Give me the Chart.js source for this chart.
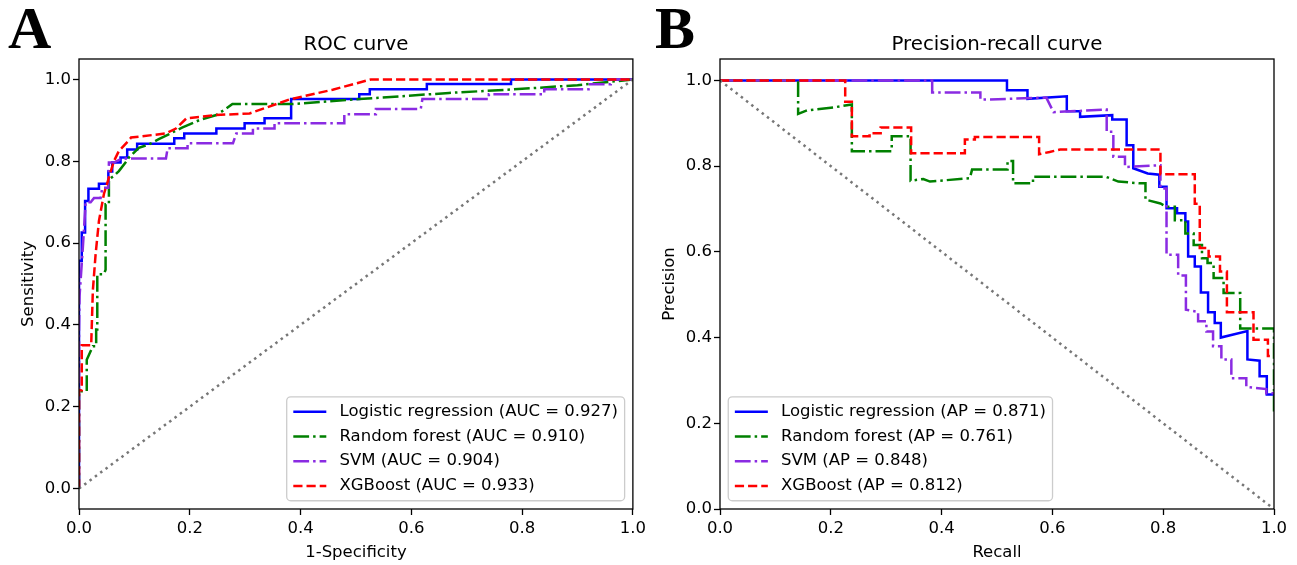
<!DOCTYPE html>
<html>
<head>
<meta charset="utf-8">
<title>ROC and precision-recall curves</title>
<script src="https://cdn.jsdelivr.net/npm/chart.js@4.4.1/dist/chart.umd.min.js"></script>
<style>
  body { margin: 0; background: #fff; }
  #rocchart { position: absolute; left: 0; top: 0; }
  #prchart { position: absolute; left: 650px; top: 0; }
</style>
</head>
<body>
<canvas id="rocchart" width="650" height="565"></canvas>
<canvas id="prchart" width="647" height="565"></canvas>
<script>
// models and scores shown in the legends
const models = ["Logistic regression", "Random forest", "SVM", "XGBoost"];
const aucScores = ["0.927", "0.910", "0.904", "0.933"];
const apScores = ["0.871", "0.761", "0.848", "0.812"];
const axisTicks = [0, 0.2, 0.4, 0.6, 0.8, 1.0];

// ROC curves (1-specificity, sensitivity)
const rocLrFpr = [0, 0, 0.005, 0.005, 0.011, 0.011, 0.017, 0.017, 0.036, 0.036, 0.053, 0.053, 0.060, 0.060, 0.075, 0.075, 0.087, 0.087, 0.105, 0.105, 0.172, 0.172, 0.190, 0.190, 0.248, 0.248, 0.299, 0.299, 0.335, 0.335, 0.383, 0.383, 0.506, 0.506, 0.525, 0.525, 0.628, 0.628, 0.780, 0.780, 1];
const rocLrTpr = [0, 0.557, 0.557, 0.626, 0.626, 0.703, 0.703, 0.733, 0.733, 0.745, 0.745, 0.775, 0.775, 0.797, 0.797, 0.809, 0.809, 0.829, 0.829, 0.843, 0.843, 0.856, 0.856, 0.868, 0.868, 0.880, 0.880, 0.893, 0.893, 0.905, 0.905, 0.952, 0.952, 0.964, 0.964, 0.976, 0.976, 0.989, 0.989, 1, 1];

const rocRfFpr = [0, 0, 0.014, 0.014, 0.025, 0.031, 0.031, 0.033, 0.033, 0.045, 0.048, 0.048, 0.054, 0.054, 0.063, 0.072, 0.084, 0.090, 0.102, 0.108, 0.126, 0.144, 0.162, 0.186, 0.218, 0.248, 0.266, 0.277, 0.386, 0.506, 0.668, 0.800, 0.900, 1];
const rocRfTpr = [0, 0.238, 0.238, 0.315, 0.348, 0.348, 0.389, 0.389, 0.524, 0.524, 0.535, 0.695, 0.695, 0.756, 0.764, 0.776, 0.797, 0.809, 0.825, 0.833, 0.841, 0.854, 0.866, 0.882, 0.901, 0.913, 0.929, 0.940, 0.940, 0.952, 0.967, 0.977, 0.986, 1];

const rocSvmFpr = [0, 0, 0.001, 0.007, 0.012, 0.021, 0.027, 0.039, 0.042, 0.053, 0.054, 0.063, 0.075, 0.085, 0.157, 0.160, 0.196, 0.196, 0.278, 0.284, 0.314, 0.314, 0.353, 0.353, 0.479, 0.479, 0.536, 0.536, 0.617, 0.620, 0.740, 0.740, 0.840, 0.840, 0.920, 0.920, 0.960, 0.960, 1];
const rocSvmTpr = [0, 0.390, 0.470, 0.590, 0.700, 0.700, 0.710, 0.710, 0.735, 0.735, 0.797, 0.797, 0.805, 0.807, 0.807, 0.832, 0.832, 0.844, 0.844, 0.868, 0.868, 0.880, 0.880, 0.893, 0.893, 0.915, 0.915, 0.928, 0.928, 0.952, 0.952, 0.964, 0.964, 0.976, 0.976, 0.988, 0.988, 1, 1];

const rocXgbFpr = [0, 0, 0.005, 0.005, 0.022, 0.025, 0.030, 0.036, 0.045, 0.054, 0.063, 0.072, 0.090, 0.094, 0.157, 0.175, 0.194, 0.248, 0.308, 0.380, 0.458, 0.527, 1];
const rocXgbTpr = [0, 0.240, 0.240, 0.350, 0.350, 0.484, 0.573, 0.654, 0.720, 0.760, 0.800, 0.825, 0.851, 0.858, 0.868, 0.880, 0.905, 0.913, 0.917, 0.951, 0.975, 1, 1];

const rocChanceX = [0, 1];
const rocChanceY = [0, 1];

// precision-recall curves (recall, precision)
const prLrRecall = [0, 0.518, 0.518, 0.555, 0.555, 0.626, 0.626, 0.650, 0.650, 0.708, 0.708, 0.734, 0.734, 0.746, 0.746, 0.772, 0.793, 0.793, 0.806, 0.806, 0.825, 0.825, 0.840, 0.840, 0.845, 0.845, 0.857, 0.857, 0.868, 0.868, 0.881, 0.881, 0.893, 0.893, 0.904, 0.904, 0.952, 0.952, 0.974, 0.974, 0.987, 0.987, 1];
const prLrPrecision = [1, 1, 0.977, 0.977, 0.957, 0.963, 0.928, 0.928, 0.915, 0.919, 0.909, 0.909, 0.849, 0.849, 0.795, 0.783, 0.780, 0.752, 0.752, 0.702, 0.702, 0.690, 0.690, 0.671, 0.671, 0.589, 0.589, 0.566, 0.566, 0.505, 0.505, 0.459, 0.459, 0.434, 0.434, 0.400, 0.415, 0.349, 0.346, 0.310, 0.310, 0.267, 0.267];

const prRfRecall = [0, 0.141, 0.141, 0.157, 0.210, 0.238, 0.238, 0.310, 0.310, 0.344, 0.344, 0.367, 0.379, 0.451, 0.455, 0.519, 0.519, 0.529, 0.529, 0.565, 0.565, 0.697, 0.719, 0.757, 0.768, 0.768, 0.795, 0.806, 0.821, 0.821, 0.840, 0.840, 0.855, 0.855, 0.870, 0.870, 0.880, 0.880, 0.891, 0.891, 0.909, 0.909, 0.939, 0.939, 1, 1];
const prRfPrecision = [1, 1, 0.922, 0.930, 0.938, 0.944, 0.835, 0.835, 0.870, 0.870, 0.766, 0.770, 0.764, 0.772, 0.792, 0.792, 0.812, 0.812, 0.760, 0.760, 0.775, 0.775, 0.764, 0.760, 0.760, 0.722, 0.713, 0.705, 0.705, 0.674, 0.674, 0.643, 0.643, 0.616, 0.616, 0.585, 0.585, 0.574, 0.574, 0.539, 0.539, 0.504, 0.504, 0.421, 0.421, 0.225];

const prSvmRecall = [0, 0.383, 0.383, 0.470, 0.470, 0.589, 0.602, 0.698, 0.698, 0.710, 0.710, 0.731, 0.731, 0.795, 0.795, 0.806, 0.806, 0.827, 0.827, 0.841, 0.841, 0.863, 0.863, 0.878, 0.878, 0.890, 0.890, 0.905, 0.905, 0.923, 0.923, 0.950, 0.950, 0.986, 0.986, 1];
const prSvmPrecision = [1, 1, 0.972, 0.972, 0.955, 0.960, 0.926, 0.932, 0.880, 0.880, 0.822, 0.822, 0.798, 0.802, 0.748, 0.748, 0.593, 0.593, 0.545, 0.545, 0.465, 0.460, 0.438, 0.438, 0.414, 0.414, 0.380, 0.380, 0.349, 0.349, 0.305, 0.305, 0.285, 0.280, 0.270, 0.270];

const prXgbRecall = [0, 0.226, 0.226, 0.238, 0.238, 0.270, 0.270, 0.290, 0.290, 0.345, 0.345, 0.442, 0.442, 0.460, 0.460, 0.576, 0.576, 0.595, 0.614, 0.795, 0.795, 0.857, 0.857, 0.866, 0.866, 0.882, 0.882, 0.9025, 0.9025, 0.915, 0.915, 0.963, 0.963, 0.989, 0.989, 1];
const prXgbPrecision = [1, 1, 0.950, 0.950, 0.870, 0.870, 0.877, 0.877, 0.890, 0.890, 0.830, 0.830, 0.862, 0.862, 0.868, 0.868, 0.828, 0.833, 0.839, 0.839, 0.781, 0.781, 0.712, 0.712, 0.609, 0.609, 0.589, 0.589, 0.554, 0.554, 0.459, 0.459, 0.395, 0.395, 0.357, 0.357];

const prChanceX = [0, 1];
const prChanceY = [1, 0];

const FONT = "'DejaVu Sans', sans-serif";
Chart.defaults.font.family = FONT;
Chart.defaults.font.size = 16.5;
Chart.defaults.color = "#000";

const pts = (xs, ys) => xs.map((x, i) => ({ x: x, y: ys[i] }));

// matplotlib-like line styles
const styles = [
    { color: "#0000ff", dash: [] },
    { color: "#008000", dash: [15.8, 4, 2.5, 4] },
    { color: "#8a2be2", dash: [15.8, 4, 2.5, 4] },
    { color: "#ff0000", dash: [9.2, 4] }
];

function curve(i, label, xs, ys) {
    return {
        label: label,
        data: pts(xs, ys),
        showLine: true,
        borderColor: styles[i].color,
        backgroundColor: styles[i].color,
        borderDash: styles[i].dash,
        borderWidth: 2.5,
        pointRadius: 0,
        fill: false,
        order: 4 - i
    };
}

function chance(xs, ys) {
    return {
        label: "",
        data: pts(xs, ys),
        showLine: true,
        borderColor: "#777777",
        borderDash: [2.5, 4.1],
        borderWidth: 2.5,
        pointRadius: 0,
        fill: false,
        order: 0,
        chance: true
    };
}

// spines, panel letter, title and legend, drawn the matplotlib way
const mplDecor = {
    id: "mplDecor",
    afterDatasetsDraw(chart, args, opts) {
        const ctx = chart.ctx, a = chart.chartArea;
        ctx.save();
        ctx.strokeStyle = "#000";
        ctx.lineWidth = 1.3;
        ctx.strokeRect(a.left, a.top, a.right - a.left, a.bottom - a.top);
        ctx.restore();
    },
    afterDraw(chart, args, opts) {
        const ctx = chart.ctx, a = chart.chartArea;
        ctx.save();
        ctx.fillStyle = "#000";
        ctx.textBaseline = "alphabetic";
        ctx.font = "bold 60px 'Liberation Serif', serif";
        ctx.textAlign = "left";
        ctx.fillText(opts.letter, opts.letterX, 48);
        ctx.font = "19.8px " + FONT;
        ctx.textAlign = "center";
        ctx.fillText(opts.title, (a.left + a.right) / 2, 50);

        // legend
        const fs = 16.5;
        const items = chart.data.datasets.filter(d => !d.chance);
        ctx.font = fs + "px " + FONT;
        let tw = 0;
        items.forEach(d => { tw = Math.max(tw, ctx.measureText(d.label).width); });
        const pad = 0.4 * fs, handle = 2 * fs, gap = 0.8 * fs, rowGap = 0.5 * fs;
        const w = pad + handle + gap + tw + pad;
        const h = 2 * pad + items.length * fs + (items.length - 1) * rowGap;
        const x0 = opts.legendSide === "right" ? a.right - 0.5 * fs - w : a.left + 0.5 * fs;
        const y0 = a.bottom - 0.5 * fs - h;
        ctx.beginPath();
        ctx.roundRect(x0, y0, w, h, 4);
        ctx.fillStyle = "rgba(255,255,255,0.8)";
        ctx.fill();
        ctx.strokeStyle = "#cccccc";
        ctx.lineWidth = 1.3;
        ctx.stroke();
        items.forEach((d, i) => {
            const cy = y0 + pad + fs / 2 + i * (fs + rowGap);
            ctx.beginPath();
            ctx.setLineDash(d.borderDash);
            ctx.strokeStyle = d.borderColor;
            ctx.lineWidth = d.borderWidth;
            ctx.moveTo(x0 + pad, cy);
            ctx.lineTo(x0 + pad + handle, cy);
            ctx.stroke();
            ctx.setLineDash([]);
            ctx.fillStyle = "#000";
            ctx.textAlign = "left";
            ctx.textBaseline = "middle";
            ctx.fillText(d.label, x0 + pad + handle + gap, cy);
        });
        ctx.restore();
    }
};

function makeOptions(cfg) {
    return {
        responsive: false,
        animation: false,
        layout: { padding: { left: 0, top: 59, right: cfg.padRight, bottom: 0 } },
        plugins: {
            legend: { display: false },
            tooltip: { enabled: false },
            mplDecor: { letter: cfg.letter, letterX: cfg.letterX, title: cfg.title, legendSide: cfg.legendSide }
        },
        scales: {
            x: {
                type: "linear",
                min: 0,
                max: 1,
                afterBuildTicks: s => { s.ticks = axisTicks.map(v => ({ value: v })); },
                afterFit: s => { s.height = 56; },
                border: { display: false },
                grid: { drawOnChartArea: false, drawTicks: true, tickLength: 6, tickWidth: 1.3, tickColor: "#000" },
                ticks: { padding: 4, autoSkip: false, maxRotation: 0, color: "#000", callback: v => v.toFixed(1) },
                title: { display: true, text: cfg.xTitle, padding: { top: 0, bottom: 2 } }
            },
            y: {
                type: "linear",
                min: cfg.yMin,
                max: 1.05,
                afterBuildTicks: s => { s.ticks = axisTicks.map(v => ({ value: v })); },
                afterFit: s => { s.width = cfg.yWidth; },
                border: { display: false },
                grid: { drawOnChartArea: false, drawTicks: true, tickLength: 6, tickWidth: 1.3, tickColor: "#000" },
                ticks: { padding: 2, autoSkip: false, color: "#000", callback: v => v.toFixed(1) },
                title: { display: true, text: cfg.yTitle, padding: { top: cfg.yTitlePad, bottom: 0 } }
            }
        }
    };
}

const roc = document.getElementById("rocchart");

new Chart(roc, {
    type: "scatter",
    data: {
        datasets: [
            curve(0, models[0] + " (AUC = " + aucScores[0] + ")", rocLrFpr, rocLrTpr),
            curve(1, models[1] + " (AUC = " + aucScores[1] + ")", rocRfFpr, rocRfTpr),
            curve(2, models[2] + " (AUC = " + aucScores[2] + ")", rocSvmFpr, rocSvmTpr),
            curve(3, models[3] + " (AUC = " + aucScores[3] + ")", rocXgbFpr, rocXgbTpr),
            chance(rocChanceX, rocChanceY)
        ]
    },
    options: makeOptions({
        padRight: 16, yMin: -0.05, yWidth: 79, yTitlePad: 18.6,
        xTitle: "1-Specificity", yTitle: "Sensitivity",
        letter: "A", letterX: 8, title: "ROC curve", legendSide: "right"
    }),
    plugins: [mplDecor]
});

const pr = document.getElementById("prchart");

new Chart(pr, {
    type: "scatter",
    data: {
        datasets: [
            curve(0, models[0] + " (AP = " + apScores[0] + ")", prLrRecall, prLrPrecision),
            curve(1, models[1] + " (AP = " + apScores[1] + ")", prRfRecall, prRfPrecision),
            curve(2, models[2] + " (AP = " + apScores[2] + ")", prSvmRecall, prSvmPrecision),
            curve(3, models[3] + " (AP = " + apScores[3] + ")", prXgbRecall, prXgbPrecision),
            chance(prChanceX, prChanceY)
        ]
    },
    options: makeOptions({
        padRight: 23, yMin: 0, yWidth: 70, yTitlePad: 9.6,
        xTitle: "Recall", yTitle: "Precision",
        letter: "B", letterX: 5, title: "Precision-recall curve", legendSide: "left"
    }),
    plugins: [mplDecor]
});
</script>
</body>
</html>
